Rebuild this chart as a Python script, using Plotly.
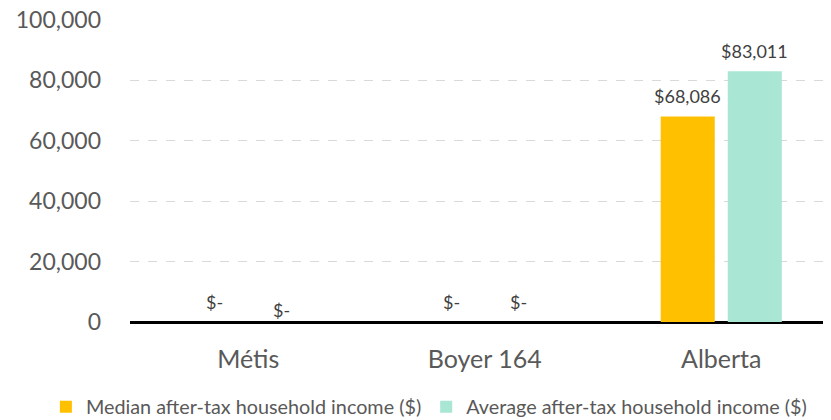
import plotly.graph_objects as go

categories = ["Métis", "Boyer 164", "Alberta"]
median_income = [0, 0, 68086]
average_income = [0, 0, 83011]
series_names = ["Median after-tax household income ($)", "Average after-tax household income ($)"]
y_ticks = [0, 20000, 40000, 60000, 80000, 100000]

colors = ["#FFC000", "#A9E6D4"]
FONT = "Lato"
GREY = "#595959"

def fmt(v):
    return "$-" if v == 0 else "${:,.0f}".format(v)

fig = go.Figure()
for name, vals, col in zip(series_names, [median_income, average_income], colors):
    fig.add_trace(go.Bar(x=categories, y=vals, name=name, marker_color=col,
                         marker_line_width=0, hoverinfo="skip"))

annotations = []
for si, vals in enumerate([median_income, average_income]):
    xs = -33.5 if si == 0 else 33.5
    for ci, (c, v) in enumerate(zip(categories, vals)):
        ysh = 7
        if v == 0 and ci == 0 and si == 1:
            ysh = -1
        annotations.append(dict(x=c, y=v, text=fmt(v), showarrow=False, xshift=xs,
                                yanchor="bottom", yshift=ysh,
                                font=dict(family=FONT, size=18, color="#404040")))

fig.update_layout(
    width=823, height=412,
    margin=dict(l=122, r=0, t=12, b=98, autoexpand=False),
    paper_bgcolor="white", plot_bgcolor="white",
    barmode="group", bargap=0.433, bargroupgap=0.194,
    font=dict(family=FONT, color=GREY),
    annotations=annotations,
    legend=dict(orientation="h", xref="paper", yref="paper",
                x=-0.12, xanchor="left", y=-0.281, yanchor="middle",
                font=dict(family=FONT, size=19.8, color=GREY), itemwidth=30),
    xaxis=dict(range=[-0.5, 2.464], showgrid=False, showline=False, ticks="",
               ticklabelstandoff=20,
               tickfont=dict(family=FONT, size=25, color=GREY)),
    yaxis=dict(range=[0, 100000], tickvals=y_ticks, tickformat=",",
               showgrid=True, gridcolor="#D9D9D9", griddash="dash", gridwidth=1,
               zeroline=True, zerolinecolor="black", zerolinewidth=3,
               showline=False, ticks="", ticklabelstandoff=28,
               ticklabeloverflow="allow",
               tickfont=dict(family=FONT, size=23, color=GREY)),
)

fig.write_html("out.html")
